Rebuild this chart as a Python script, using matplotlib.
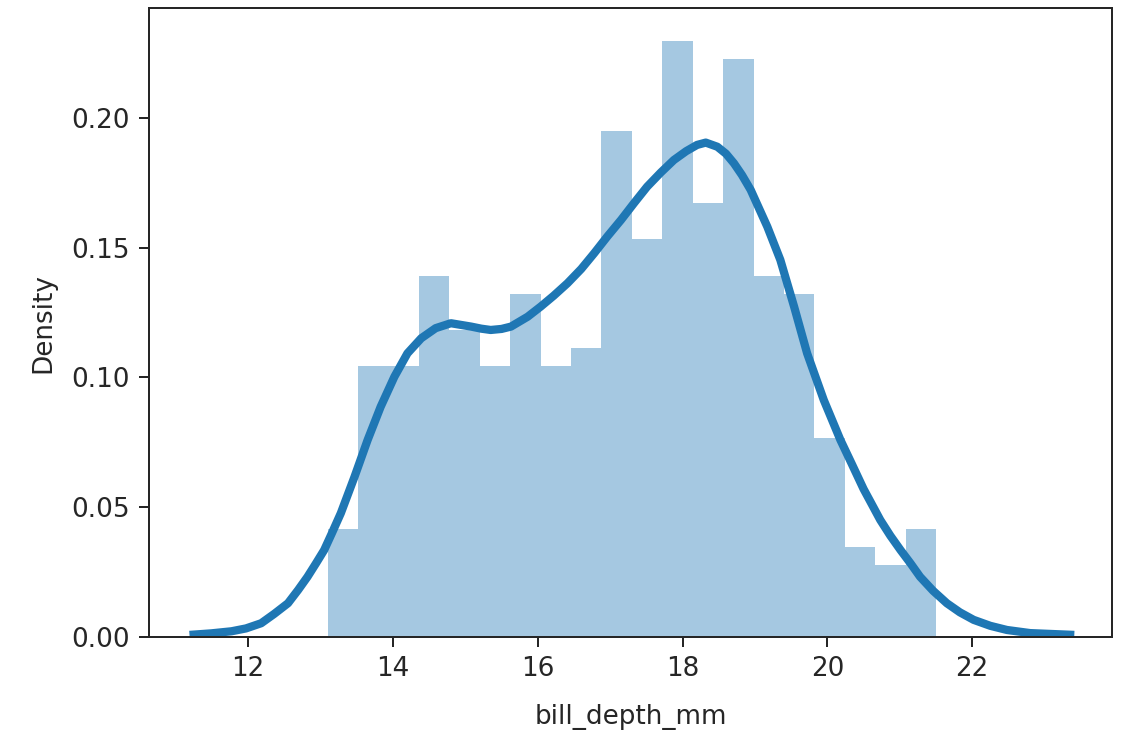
import matplotlib
matplotlib.use("Agg")
import matplotlib.pyplot as plt
import numpy as np

BLUE = "#1f77b4"

# histogram: 20 bins over the bill depth range (13.1 .. 21.5 mm), density heights
bin_lo, bin_hi, n_bins = 13.1, 21.5, 20
bar_density = [0.0418, 0.1044, 0.1044, 0.1392, 0.1184, 0.1044, 0.1323, 0.1044,
               0.1114, 0.1949, 0.1532, 0.2297, 0.1671, 0.2228, 0.1392, 0.1323,
               0.0766, 0.0348, 0.0278, 0.0418]

# kde curve
kde_x = [11.19, 11.49, 11.77, 11.97, 12.18, 12.36, 12.55, 12.69, 12.82, 12.94,
         13.05, 13.16, 13.28, 13.47, 13.65, 13.83, 14.02, 14.20, 14.39, 14.59,
         14.80, 15.08, 15.22, 15.35, 15.50, 15.63, 15.86, 16.04, 16.22, 16.41,
         16.60, 16.78, 16.96, 17.15, 17.33, 17.51, 17.70, 17.88, 18.05, 18.20,
         18.32, 18.48, 18.60, 18.71, 18.82, 18.94, 19.17, 19.35, 19.54, 19.72,
         19.95, 20.18, 20.34, 20.50, 20.62, 20.73, 20.87, 21.01, 21.15, 21.28,
         21.46, 21.65, 21.83, 22.02, 22.25, 22.48, 22.80, 23.41]
kde_y = [0.0008, 0.0014, 0.0022, 0.0033, 0.0053, 0.0089, 0.0130, 0.0181, 0.0232, 0.0285,
         0.0335, 0.0402, 0.0477, 0.0618, 0.0759, 0.0887, 0.1003, 0.1093, 0.1151, 0.1190,
         0.1209, 0.1196, 0.1188, 0.1183, 0.1187, 0.1196, 0.1234, 0.1273, 0.1315, 0.1363,
         0.1418, 0.1479, 0.1543, 0.1607, 0.1672, 0.1735, 0.1790, 0.1838, 0.1872, 0.1896,
         0.1905, 0.1889, 0.1862, 0.1825, 0.1780, 0.1723, 0.1581, 0.1453, 0.1273, 0.1093,
         0.0913, 0.0759, 0.0665, 0.0570, 0.0508, 0.0451, 0.0390, 0.0335, 0.0283, 0.0232,
         0.0178, 0.0130, 0.0095, 0.0066, 0.0043, 0.0027, 0.0015, 0.0008]

plt.rcParams.update({"font.family": "DejaVu Sans", "font.size": 11})

fig = plt.figure(figsize=(1125 / 180, 732 / 180), dpi=180)
ax = fig.add_axes([0.1324, 0.1298, 0.8560, 0.8587])

edges = np.linspace(bin_lo, bin_hi, n_bins + 1)
ax.bar(edges[:-1], bar_density, width=np.diff(edges), align="edge",
       color=BLUE, alpha=0.4, linewidth=0)
ax.plot(kde_x, kde_y, color=BLUE, linewidth=3.3, solid_joinstyle="round",
        solid_capstyle="butt")

ax.set_xlim(10.63, 23.93)
ax.set_ylim(0, 0.2422)
ax.set_xticks([12, 14, 16, 18, 20, 22])
ax.set_yticks([0.0, 0.05, 0.10, 0.15, 0.20])
ax.yaxis.set_major_formatter(matplotlib.ticker.FormatStrFormatter("%.2f"))
ax.tick_params(length=4, width=0.8, colors="#262626", labelsize=10.5)
for s in ax.spines.values():
    s.set_color("#262626")
    s.set_linewidth(0.8)
ax.set_xlabel("bill_depth_mm", fontsize=10.5, color="#262626", labelpad=9)
ax.set_ylabel("Density", fontsize=10.5, color="#262626", labelpad=6)

fig.savefig("out.png", dpi=180, facecolor="white")
